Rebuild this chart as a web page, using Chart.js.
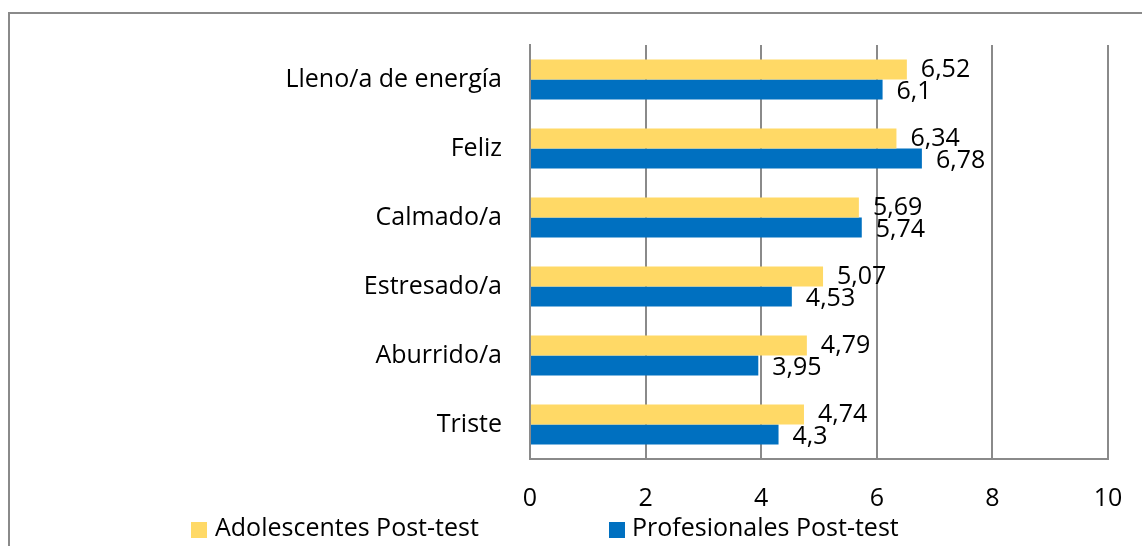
<!DOCTYPE html>
<html>
<head>
<meta charset="utf-8">
<script src="https://cdn.jsdelivr.net/npm/chart.js@4"></script>
<style>
  body { margin: 0; background: #fff; }
  .wrap { position: relative; width: 1142px; height: 546px; overflow: hidden; }
  .frame { position: absolute; left: 8px; top: 12px; width: 1160px; height: 600px; border: 2px solid #8a8a8a; box-sizing: border-box; }
  canvas { position: absolute; left: 0; top: 0; }
</style>
</head>
<body>
<div class="wrap">
  <div class="frame"></div>
  <canvas id="chart" width="1142" height="546"></canvas>
</div>
<script>
const categories = ["Lleno/a de energía", "Feliz", "Calmado/a", "Estresado/a", "Aburrido/a", "Triste"];
const adolescentes = [6.52, 6.34, 5.69, 5.07, 4.79, 4.74];
const profesionales = [6.1, 6.78, 5.74, 4.53, 3.95, 4.3];
const seriesNames = ["Adolescentes Post-test", "Profesionales Post-test"];
const xTicks = [0, 2, 4, 6, 8, 10];

const FONT = "Open Sans";
const ctx = document.getElementById("chart").getContext("2d");

// value labels next to bar ends + legend drawn at the bottom
const labelsPlugin = {
  id: "barLabels",
  afterDatasetsDraw: (chart) => {
    const { ctx } = chart;
    ctx.save();
    ctx.font = "25px '" + FONT + "'";
    ctx.fillStyle = "#000";
    ctx.textAlign = "left";
    ctx.textBaseline = "middle";
    chart.data.datasets.forEach((ds, i) => {
      chart.getDatasetMeta(i).data.forEach((bar, j) => {
        const txt = String(ds.data[j]).replace(".", ",");
        ctx.fillText(txt, bar.x + 14, bar.y + (i === 0 ? 0 : 2));
      });
    });
    // legend
    const items = [
      { x: 191, textX: 215 },
      { x: 609, textX: 632 },
    ];
    chart.data.datasets.forEach((ds, i) => {
      ctx.fillStyle = ds.backgroundColor;
      ctx.fillRect(items[i].x, 522, 16, 16);
      ctx.fillStyle = "#000";
      ctx.fillText(ds.label, items[i].textX, 529);
    });
    ctx.restore();
  },
};

const chart = new Chart(ctx, {
  type: "bar",
  data: {
    labels: categories,
    datasets: [
      {
        label: seriesNames[0],
        data: adolescentes,
        backgroundColor: "#FFD966",
        categoryPercentage: 0.58,
        barPercentage: 1,
      },
      {
        label: seriesNames[1],
        data: profesionales,
        backgroundColor: "#0070C0",
        categoryPercentage: 0.58,
        barPercentage: 1,
      },
    ],
  },
  options: {
    indexAxis: "y",
    responsive: false,
    animation: false,
    layout: {
      padding: { left: 0, right: 34, top: 45, bottom: 0 },
    },
    scales: {
      x: {
        min: 0,
        max: 10,
        afterBuildTicks: (scale) => {
          scale.ticks = xTicks.map((v) => ({ value: v }));
        },
        afterFit: (scale) => {
          scale.height = 87;
          scale.paddingLeft = 0;
          scale.paddingRight = 0;
        },
        grid: {
          color: "#8a8a8a",
          lineWidth: 2,
          drawTicks: false,
        },
        border: { color: "#8a8a8a", width: 2 },
        ticks: {
          color: "#000",
          padding: 25,
          font: { family: FONT, size: 25 },
        },
      },
      y: {
        afterFit: (scale) => {
          scale.width = 530;
          scale.paddingTop = 0;
          scale.paddingBottom = 0;
        },
        grid: { display: false, drawTicks: false },
        border: { color: "#8a8a8a", width: 2 },
        ticks: {
          color: "#000",
          padding: 28,
          font: { family: FONT, size: 25 },
        },
      },
    },
    plugins: {
      legend: { display: false },
      tooltip: { enabled: false },
    },
  },
  plugins: [labelsPlugin],
});
</script>
</body>
</html>
